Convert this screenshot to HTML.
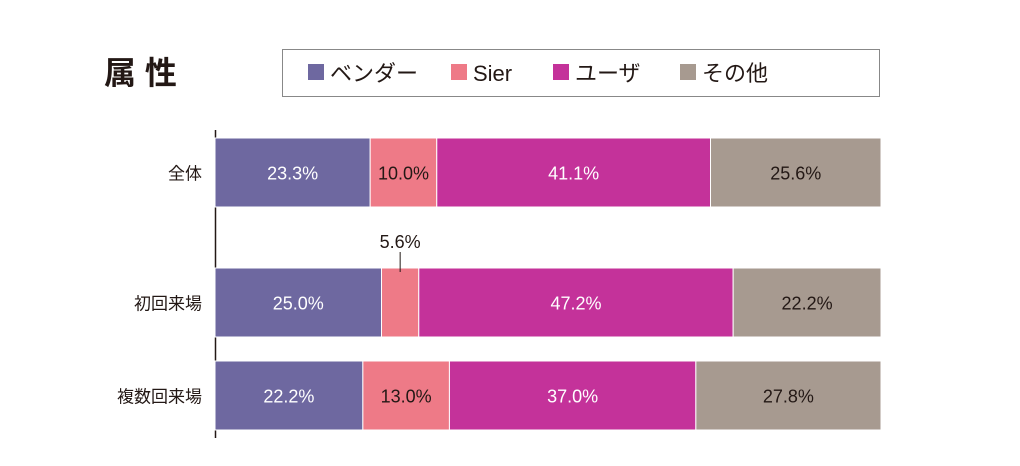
<!DOCTYPE html>
<html><head><meta charset="utf-8"><style>
body{margin:0;background:#fff;width:1020px;height:466px;overflow:hidden}
svg{display:block;font-family:"Liberation Sans","Noto Sans CJK JP",sans-serif}
</style></head><body>
<svg id="c" width="1020" height="466">
<text x="104" y="84" font-size="32" font-weight="bold" fill="#231815">属 性</text>
<g>
<rect x="282.5" y="49.5" width="597" height="47" fill="#fff" stroke="#888"/>
<g id="leg"></g>
</g>
<line x1="215.5" y1="130" x2="215.5" y2="438" stroke="#231815" stroke-width="1.5"/>
<g id="bars"></g>
</svg>
<script>
const categories=["全体","初回来場","複数回来場"];
const seriesNames=["ベンダー","Sier","ユーザ","その他"];
const vendor=[23.3,25.0,22.2];
const sier=[10.0,5.6,13.0];
const user=[41.1,47.2,37.0];
const other=[25.6,22.2,27.8];
const colors=["#6e68a0","#ee7a87","#c4329a","#a79a90"];
const textColors=["#fff","#231815","#fff","#231815"];
const ns="http://www.w3.org/2000/svg";
function mk(t,a,p){const e=document.createElementNS(ns,t);for(const k in a)e.setAttribute(k,a[k]);p.appendChild(e);return e;}
const x0=215,x1=881;
const xs=v=>x0+(x1-x0)*v/100;
const rowY=[138,268,361],rowH=69;
const series=[vendor,sier,user,other];
const bars=document.getElementById('bars');
categories.forEach((c,i)=>{
  const t=mk('text',{x:202,y:rowY[i]+rowH/2+7,'text-anchor':'end','font-size':17,fill:'#231815'},bars);
  
  
  t.textContent=c;
  let cum=0;
  series.forEach((s,j)=>{
    const a=xs(cum),b=xs(cum+s[i]);cum+=s[i];
    const r=mk('rect',{x:a,y:rowY[i],width:b-a,height:rowH,fill:colors[j],stroke:'#fff','stroke-width':1},bars);
    
    
    const lab=s[i].toFixed(1)+'%';
    if(s[i]<8){
      const cx=(a+b)/2;
      const ln=mk('line',{x1:cx,y1:rowY[i]-16,x2:cx,y2:rowY[i]+4,stroke:'#231815','stroke-width':1},bars);
      
      
      const vt=mk('text',{x:cx,y:rowY[i]-20,'text-anchor':'middle','font-size':18,fill:'#231815'},bars);
      
      
      vt.textContent=lab;
    }else{
      const vt=mk('text',{x:(a+b)/2,y:rowY[i]+rowH/2+7,'text-anchor':'middle','font-size':18,fill:textColors[j]},bars);
      
      
      vt.textContent=lab;
    }
  });
});
const leg=document.getElementById('leg');
const legX=[308,451,553,680];
seriesNames.forEach((n,j)=>{
  const r=mk('rect',{x:legX[j],y:64,width:16,height:16,fill:colors[j]},leg);
  
  
  const t=mk('text',{x:legX[j]+22,y:81,'font-size':22,fill:'#231815'},leg);
  
  
  t.textContent=n;
});
</script>
</body></html>
